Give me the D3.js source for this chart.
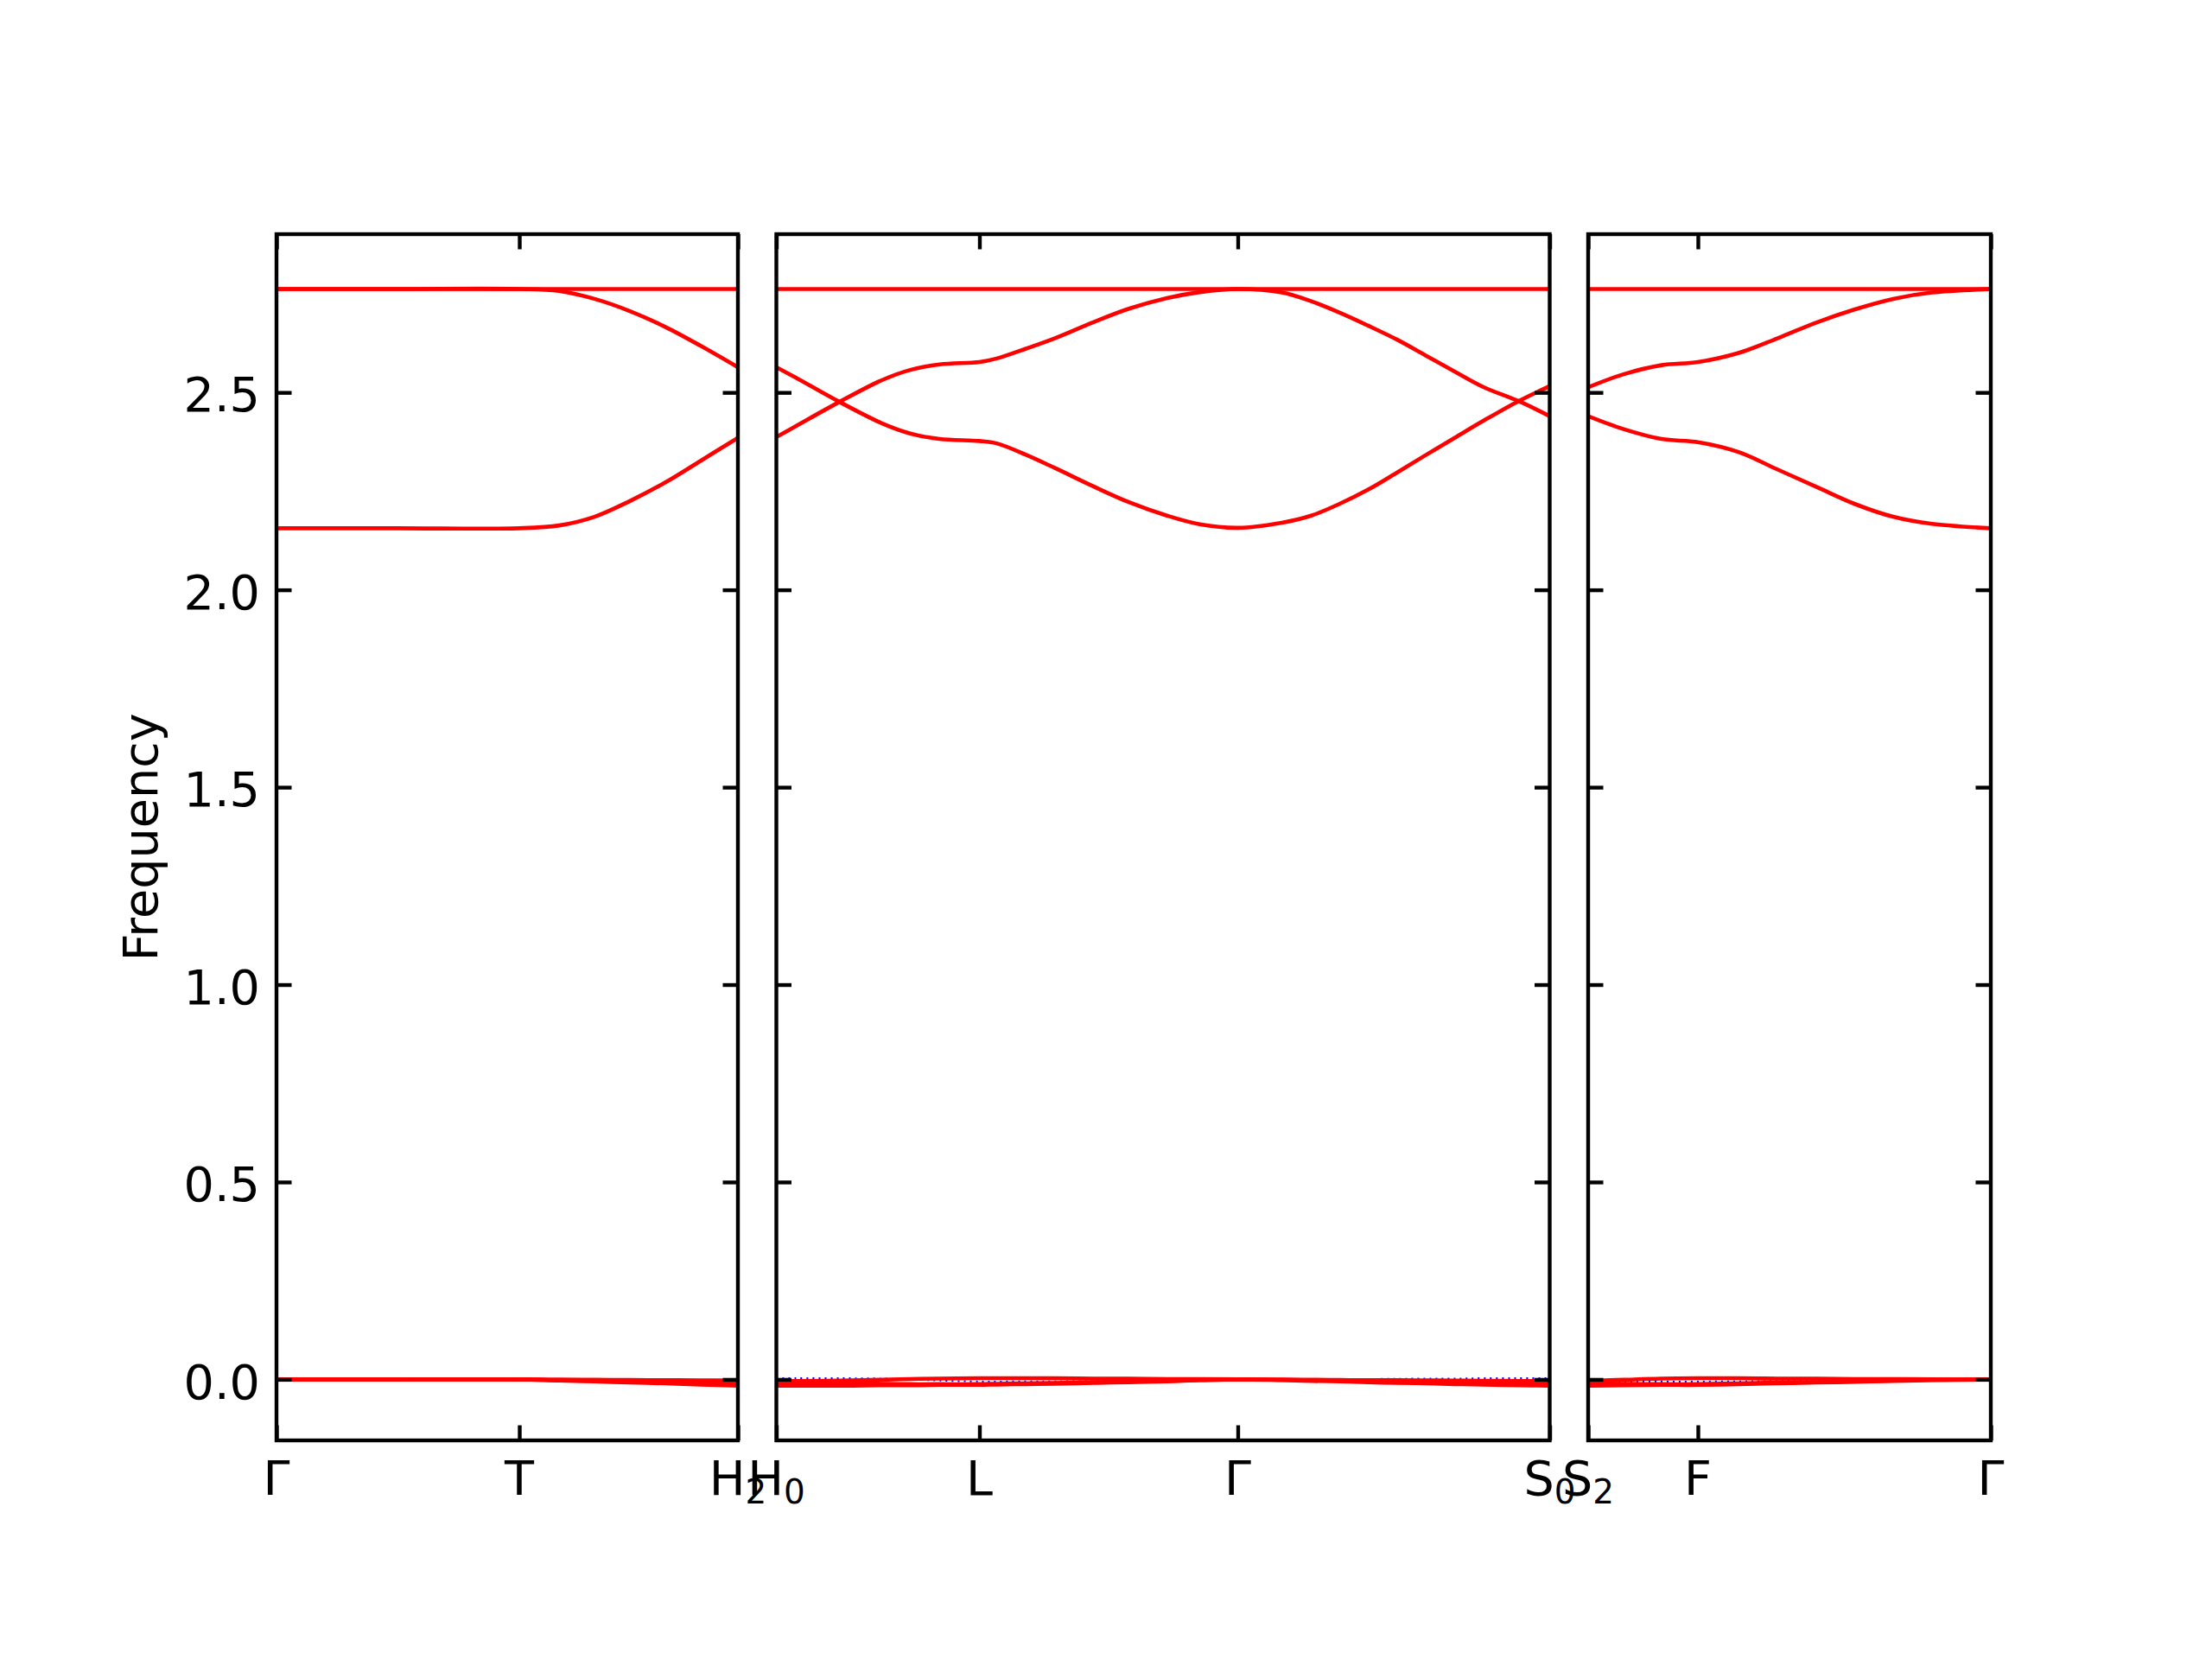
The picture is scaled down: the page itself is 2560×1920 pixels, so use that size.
<!DOCTYPE html>
<html>
<head>
<meta charset="utf-8">
<script src="https://cdn.jsdelivr.net/npm/d3@7"></script>
<style>
  body { margin: 0; background: #fff; }
  text { font-family: "DejaVu Sans", sans-serif; }
</style>
</head>
<body>
<script>
// ---- data ----
// path distance of every sample (per panel, starting at 0)
let k1 = [0, 0.140, 0.281, 0.327, 0.368, 0.409, 0.450, 0.491, 0.534];
let ticks1 = [0, 0.281, 0.534];
let labels1 = [["Γ", ""], ["T", ""], ["H", "2"]];
let flat1  = [2.762, 2.762, 2.762, 2.762, 2.762, 2.762, 2.762, 2.762, 2.762];
let up1    = [2.762, 2.762, 2.762, 2.757, 2.737, 2.706, 2.666, 2.618, 2.564];
let low1   = [2.156, 2.156, 2.156, 2.163, 2.185, 2.225, 2.272, 2.327, 2.385];
let za1    = [0, 0, 0, -0.0005, -0.001, -0.0015, -0.002, -0.0025, -0.003];
let zc1    = [0, 0, 0, -0.002, -0.003, -0.005, -0.006, -0.008, -0.009];
let zb1    = [0, 0, 0, -0.003, -0.005, -0.008, -0.010, -0.013, -0.016];

let k2 = [0, 0.022, 0.073, 0.122, 0.155, 0.189, 0.235, 0.255, 0.289, 0.322, 0.367, 0.408, 0.452,
          0.490, 0.534, 0.585, 0.619, 0.652, 0.685, 0.719, 0.752, 0.785, 0.819, 0.859, 0.895];
let ticks2 = [0, 0.235, 0.534, 0.895];
let labels2 = [["H", "0"], ["L", ""], ["Γ", ""], ["S", "0"]];
let flat2  = [2.762, 2.762, 2.762, 2.762, 2.762, 2.762, 2.762, 2.762, 2.762, 2.762, 2.762, 2.762, 2.762,
              2.762, 2.762, 2.762, 2.762, 2.762, 2.762, 2.762, 2.762, 2.762, 2.762, 2.762, 2.762];
let bandA2 = [2.387, 2.414, 2.476, 2.531, 2.557, 2.571, 2.577, 2.586, 2.611, 2.637, 2.678, 2.712, 2.739,
              2.754, 2.762, 2.753, 2.731, 2.702, 2.669, 2.633, 2.593, 2.553, 2.513, 2.478, 2.440];
let bandB2 = [2.564, 2.538, 2.476, 2.422, 2.396, 2.382, 2.377, 2.371, 2.342, 2.309, 2.262, 2.222, 2.188,
              2.166, 2.157, 2.170, 2.188, 2.218, 2.254, 2.298, 2.342, 2.385, 2.429, 2.478, 2.516];
let za2    = [-0.004, -0.004, -0.003, -0.001, 0.001, 0.002, 0.003, 0.003, 0.003, 0.003, 0.002, 0.002, 0.001,
              0.001, 0, -0.0005, -0.001, -0.0015, -0.002, -0.002, -0.0025, -0.003, -0.0035, -0.004, -0.004];
let zc2    = [-0.010, -0.010, -0.010, -0.011, -0.012, -0.012, -0.012, -0.011, -0.010, -0.009, -0.007, -0.005, -0.004,
              -0.002, 0, -0.001, -0.002, -0.003, -0.004, -0.005, -0.006, -0.007, -0.008, -0.009, -0.010];
let zb2    = [-0.016, -0.016, -0.016, -0.015, -0.015, -0.014, -0.014, -0.013, -0.012, -0.011, -0.009, -0.007, -0.005,
              -0.002, 0, -0.002, -0.004, -0.005, -0.007, -0.009, -0.010, -0.012, -0.013, -0.015, -0.016];
let blue2  = [0.003, 0.003, 0.003, 0.002, 0, -0.003, -0.0055, -0.0055, -0.005, -0.005, -0.004, -0.003, -0.002,
              -0.001, 0, 0, 0.0005, 0.001, 0.001, 0.0015, 0.002, 0.002, 0.003, 0.003, 0.003];

let k3 = [0, 0.041, 0.085, 0.127, 0.174, 0.219, 0.264, 0.308, 0.353, 0.398, 0.466];
let ticks3 = [0, 0.127, 0.466];
let labels3 = [["S", "2"], ["F", ""], ["Γ", ""]];
let flat3  = [2.762, 2.762, 2.762, 2.762, 2.762, 2.762, 2.762, 2.762, 2.762, 2.762, 2.762];
let up3    = [2.513, 2.546, 2.569, 2.577, 2.600, 2.637, 2.677, 2.710, 2.737, 2.753, 2.762];
let low3   = [2.440, 2.407, 2.382, 2.374, 2.349, 2.305, 2.261, 2.218, 2.185, 2.167, 2.156];
let za3    = [-0.004, -0.001, 0.002, 0.003, 0.003, 0.002, 0.002, 0.001, 0.001, 0, 0];
let zc3    = [-0.010, -0.011, -0.012, -0.012, -0.010, -0.008, -0.007, -0.005, -0.003, -0.001, 0];
let zb3    = [-0.016, -0.015, -0.014, -0.014, -0.012, -0.010, -0.008, -0.006, -0.004, -0.002, 0];
let blue3  = [-0.006, -0.006, -0.0055, -0.0055, -0.005, -0.004, -0.003, -0.002, -0.001, 0, 0];

let yTicks = [0, 0.5, 1.0, 1.5, 2.0, 2.5];
let yLabel = "Frequency";

// ---- layout ----
let width = 2560, height = 1920;
let axLeft = 320, axRight = 2304, axTop = 271, axBottom = 1667, gap = 44.5;
let fs = 55.6, tickLen = 17.5, lw = 4.6;

let panels = [
    {k: k1, ticks: ticks1, labels: labels1, red: [flat1, up1, low1, za1, zc1, zb1], blue: []},
    {k: k2, ticks: ticks2, labels: labels2, red: [flat2, bandA2, bandB2, za2, zc2, zb2], blue: [blue2]},
    {k: k3, ticks: ticks3, labels: labels3, red: [flat3, up3, low3, za3, zc3, zb3], blue: [blue3]}
];

let svg = d3.select("body").append("svg")
    .attr("width", width)
    .attr("height", height);

let y = d3.scaleLinear().domain([-0.1545, 2.9009]).range([axBottom, axTop]);

let totalK = d3.sum(panels, p => p.k[p.k.length - 1]);
let pxPerK = (axRight - axLeft - gap * (panels.length - 1)) / totalK;

let x0 = axLeft;
panels.forEach((p, i) => {
    let kmax = p.k[p.k.length - 1];
    let w = kmax * pxPerK;
    let x = d3.scaleLinear().domain([0, kmax]).range([x0, x0 + w]);
    x0 += w + gap;

    let g = svg.append("g");

    g.append("clipPath").attr("id", "clip" + i)
        .append("rect")
        .attr("x", x.range()[0]).attr("y", axTop)
        .attr("width", w).attr("height", axBottom - axTop);

    let line = d3.line()
        .x((d, j) => x(p.k[j]))
        .y(d => y(d))
        .curve(d3.curveCatmullRom.alpha(0.5));

    let plot = g.append("g").attr("clip-path", `url(#clip${i})`);

    plot.selectAll("path.blue")
        .data(p.blue)
        .enter().append("path")
        .attr("class", "blue")
        .attr("d", line)
        .attr("fill", "none")
        .attr("stroke", "#0000ff")
        .attr("stroke-width", 2)
        .attr("stroke-dasharray", "2,5");

    plot.selectAll("path.red")
        .data(p.red)
        .enter().append("path")
        .attr("class", "red")
        .attr("d", line)
        .attr("fill", "none")
        .attr("stroke", "#ff0000")
        .attr("stroke-width", lw);

    // inward ticks on all four sides
    let axes = [
        [d3.axisBottom(x).tickValues(p.ticks), `translate(0,${axBottom})`],
        [d3.axisTop(x).tickValues(p.ticks), `translate(0,${axTop})`],
        [d3.axisLeft(y).tickValues(yTicks), `translate(${x.range()[0]},0)`],
        [d3.axisRight(y).tickValues(yTicks), `translate(${x.range()[1]},0)`]
    ];
    axes.forEach(([ax, tr], a) => {
        ax.tickSizeInner(-tickLen).tickSizeOuter(0).tickFormat("");
        if (i === 0 && a === 2) ax.tickFormat(d3.format(".1f")).tickPadding(19);
        let ag = g.append("g").attr("transform", tr).call(ax);
        ag.select(".domain").remove();
        ag.selectAll("line").attr("stroke", "#000").attr("stroke-width", 4.4);
        ag.selectAll("text")
            .attr("font-family", "DejaVu Sans")
            .attr("font-size", fs)
            .attr("fill", "#000")
            .attr("dy", "0.39em");
    });

    // spines
    g.append("rect")
        .attr("x", x.range()[0]).attr("y", axTop)
        .attr("width", w).attr("height", axBottom - axTop)
        .attr("fill", "none")
        .attr("stroke", "#000")
        .attr("stroke-width", 4.4);

    // high-symmetry point labels
    let lab = g.selectAll("text.klabel")
        .data(p.ticks)
        .enter().append("text")
        .attr("class", "klabel")
        .attr("x", d => x(d))
        .attr("y", axBottom + 63)
        .attr("text-anchor", "middle")
        .attr("font-size", fs)
        .attr("fill", "#000");
    lab.append("tspan").text((d, j) => p.labels[j][0]);
    lab.append("tspan")
        .attr("font-size", fs * 0.7)
        .attr("dy", 10)
        .text((d, j) => p.labels[j][1]);
});

svg.append("text")
    .attr("transform", `translate(182,${(axTop + axBottom) / 2}) rotate(-90)`)
    .attr("text-anchor", "middle")
    .attr("font-size", fs)
    .attr("fill", "#000")
    .text(yLabel);
</script>
</body>
</html>
